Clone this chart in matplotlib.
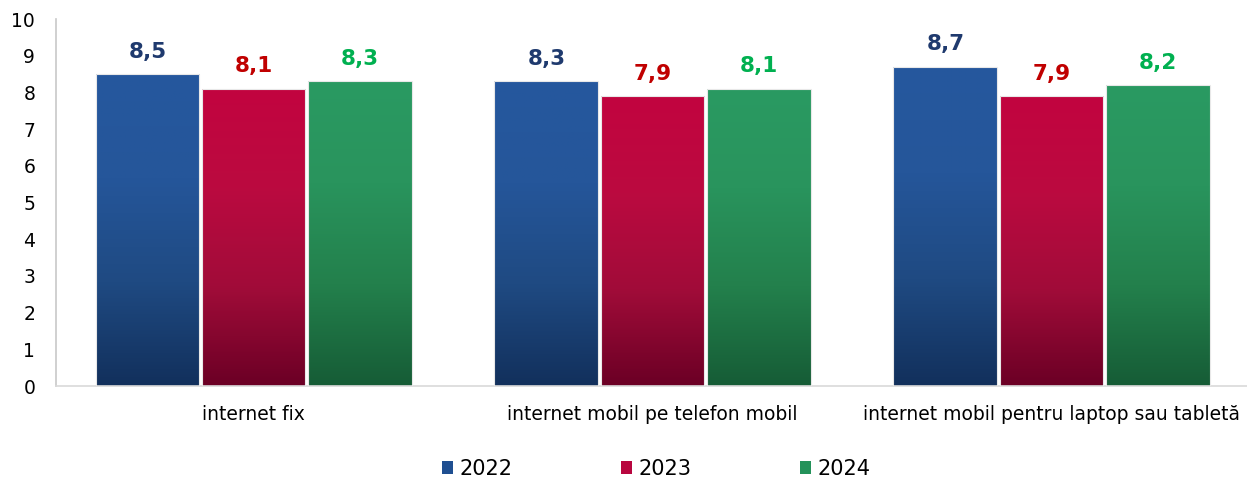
import numpy as np
import matplotlib
matplotlib.use("Agg")
import matplotlib.pyplot as plt
from matplotlib.colors import LinearSegmentedColormap
from matplotlib.patches import Patch

categories = ["internet fix", "internet mobil pe telefon mobil",
              "internet mobil pentru laptop sau tabletă"]
years = ["2022", "2023", "2024"]
values_2022 = [8.5, 8.3, 8.7]
values_2023 = [8.1, 7.9, 7.9]
values_2024 = [8.3, 8.1, 8.2]

series = [values_2022, values_2023, values_2024]
# gradient stops: bottom -> top
gradients = [
    ["#12305c", "#1f4a82", "#25569a", "#25589e"],
    ["#6b0025", "#a10c39", "#bb0a40", "#c2043f"],
    ["#165c36", "#23804c", "#29945d", "#2a9a62"],
]
label_colors = ["#1f3a6e", "#c00000", "#00b050"]
legend_colors = ["#1f4f91", "#b8063f", "#24925a"]

plt.rcParams['font.family'] = ['DejaVu Sans']

fig = plt.figure(figsize=(12.47, 4.82), dpi=100)
ax = fig.add_axes([56 / 1247, 96 / 482, 1 - 56 / 1247, (386 - 19) / 482])

x = np.arange(len(categories))
width = 0.26
offsets = [-0.266, 0.0, 0.267]

grad = np.linspace(0, 1, 256).reshape(-1, 1)
for vals, off, stops, lc in zip(series, offsets, gradients, label_colors):
    cmap = LinearSegmentedColormap.from_list("g", stops)
    bars = ax.bar(x + off, vals, width, facecolor="none",
                  edgecolor="#e8e8e8", linewidth=0.8, zorder=3)
    for b, v in zip(bars, vals):
        x0 = b.get_x()
        img = ax.imshow(grad, extent=[x0, x0 + b.get_width(), 0, v],
                        origin="lower", aspect="auto", cmap=cmap, zorder=2)
        img.set_clip_path(b)
        ax.annotate(f"{v:.1f}".replace(".", ","), (b.get_x() + b.get_width() / 2, v),
                    xytext=(0, 9), textcoords="offset points", ha="center",
                    va="bottom", fontsize=15.5, fontweight="bold", color=lc)

ax.set_xlim(-0.495, 2.49)
ax.set_ylim(0, 10)
ax.set_yticks(range(0, 11))
ax.set_xticks(x)
ax.set_xticklabels(categories, fontsize=13.5)
ax.tick_params(axis="y", length=0, labelsize=13.5, pad=15)
ax.tick_params(axis="x", length=0, pad=14)
for s in ["top", "right"]:
    ax.spines[s].set_visible(False)
ax.spines["left"].set_color("#c8c8c8")
ax.spines["bottom"].set_color("#d9d9d9")
ax.spines["left"].set_linewidth(1.2)
ax.spines["bottom"].set_linewidth(1.2)

handles = [Patch(facecolor=c, edgecolor="none") for c in legend_colors]
fig.legend(handles, years, loc="center", bbox_to_anchor=(656 / 1247, 1 - 469 / 482),
           ncol=3, frameon=False, fontsize=15, handlelength=0.55, handleheight=0.55,
           handletextpad=0.3, columnspacing=5.2)

fig.savefig("out.png", dpi=100)
